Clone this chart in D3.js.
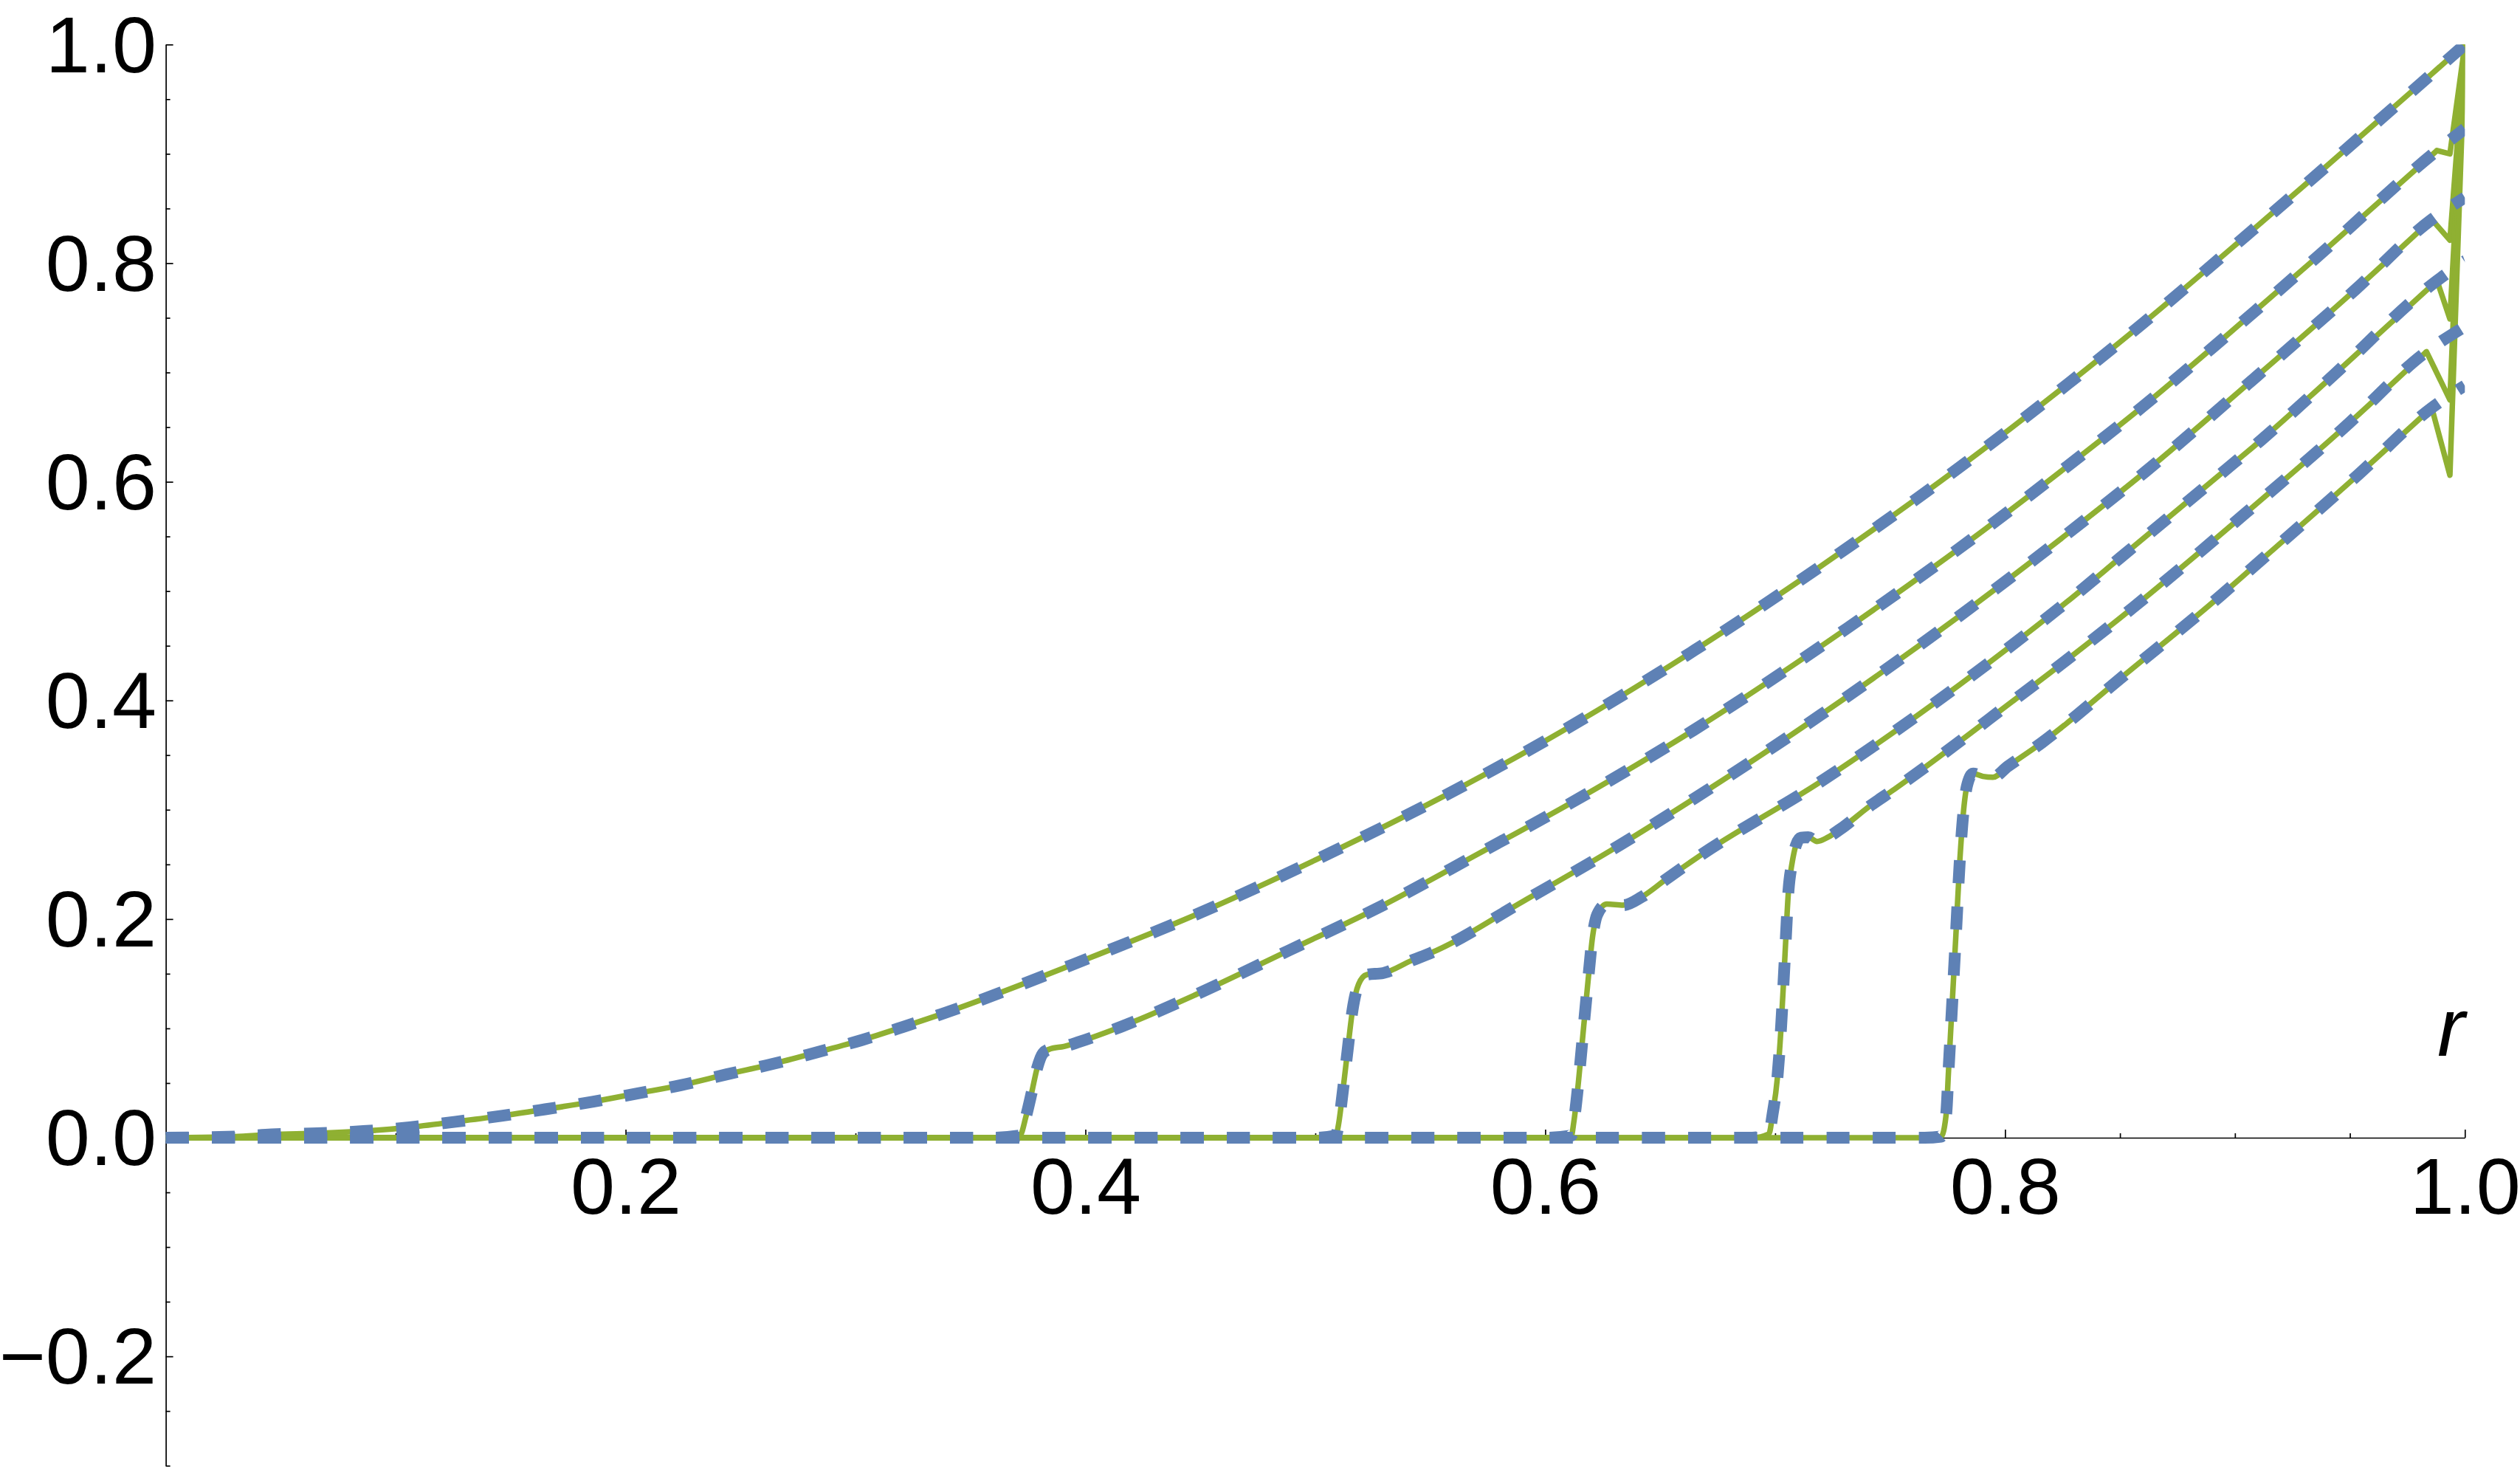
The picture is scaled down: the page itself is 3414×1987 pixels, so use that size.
<!DOCTYPE html>
<html>
<head>
<meta charset="utf-8">
<script src="https://cdn.jsdelivr.net/npm/d3@7"></script>
<style>
    body { margin: 0; background: #ffffff; }
    svg text { font-family: "Liberation Sans", Arial, sans-serif; }
</style>
</head>
<body>
<div id="chart"></div>
<script>
// Data
const xTickLabels = [0.2, 0.4, 0.6, 0.8, 1.0]
const yTickLabels = [-0.2, 0.0, 0.2, 0.4, 0.6, 0.8, 1.0]
const axisLabel = 'r'

// curve 1 (no step)
const r1 = [0, 0.03, 0.046, 0.066, 0.086, 0.106, 0.126, 0.146, 0.165, 0.186, 0.205, 0.224, 0.244, 0.264, 0.283, 0.303, 0.321, 0.340, 0.40, 0.448, 0.50, 0.55, 0.60, 0.665, 0.72, 0.78, 0.827, 0.86, 0.907, 0.94, 0.985]
const u1 = [0, 0.001, 0.003, 0.004, 0.006, 0.0095, 0.0146, 0.020, 0.026, 0.033, 0.0405, 0.048, 0.058, 0.0675, 0.078, 0.0895, 0.1016, 0.115, 0.163, 0.204, 0.254, 0.306, 0.363, 0.446, 0.523, 0.613, 0.689, 0.745, 0.829, 0.889, 0.972]

// curve 2 (step near r = 0.37)
const r2 = [0, 0.36, 0.3715, 0.3741, 0.3766, 0.379, 0.3815, 0.3846, 0.3907, 0.3968, 0.4091, 0.4214, 0.4476, 0.4885, 0.5295, 0.5704, 0.6114, 0.6646, 0.7313, 0.780, 0.828, 0.8594, 0.8943, 0.9354, 0.9879]
const u2 = [0, 0, 0.002, 0.019, 0.041, 0.0637, 0.0772, 0.0812, 0.0835, 0.0873, 0.0964, 0.1065, 0.1305, 0.1713, 0.2127, 0.2592, 0.3065, 0.3729, 0.466, 0.539, 0.6157, 0.668, 0.730, 0.805, 0.903]

// curve 3 (step near r = 0.51)
const r3 = [0, 0.50, 0.509, 0.510, 0.5121, 0.5141, 0.5162, 0.5188, 0.5223, 0.5295, 0.5418, 0.55, 0.591, 0.6319, 0.6646, 0.72, 0.780, 0.8268, 0.8609, 0.907, 0.9525, 0.9856]
const u3 = [0, 0, 0.002, 0.011, 0.0448, 0.081, 0.117, 0.1403, 0.1491, 0.1506, 0.162, 0.1688, 0.217, 0.267, 0.310, 0.387, 0.477, 0.552, 0.609, 0.692, 0.776, 0.840]

// curve 4 (step near r = 0.61)
const r4 = [0, 0.60, 0.6114, 0.6124, 0.6144, 0.6165, 0.6186, 0.6206, 0.6226, 0.6268, 0.6339, 0.6421, 0.6523, 0.6663, 0.72, 0.780, 0.8268, 0.8498, 0.8943, 0.9113, 0.94, 0.9879]
const u4 = [0, 0, 0.002, 0.0138, 0.050, 0.0966, 0.143, 0.184, 0.204, 0.2137, 0.2127, 0.2204, 0.236, 0.2566, 0.326, 0.414, 0.490, 0.530, 0.608, 0.638, 0.692, 0.784]

// curve 5 (step near r = 0.70)
const r5 = [0, 0.69, 0.6973, 0.6989, 0.701, 0.7026, 0.7042, 0.7058, 0.7074, 0.709, 0.7112, 0.7144, 0.7182, 0.723, 0.7283, 0.7412, 0.7519, 0.7574, 0.8031, 0.8268, 0.8557, 0.9022, 0.9472, 0.9833]
const u5 = [0, 0, 0.0035, 0.0216, 0.0552, 0.1017, 0.1638, 0.2258, 0.2516, 0.2672, 0.2744, 0.2749, 0.271, 0.2749, 0.2822, 0.3034, 0.3188, 0.327, 0.399, 0.437, 0.485, 0.567, 0.649, 0.719]

// curve 6 (step near r = 0.77)
const r6 = [0, 0.765, 0.7722, 0.7744, 0.7754, 0.777, 0.7786, 0.7802, 0.7818, 0.7834, 0.7861, 0.7904, 0.7947, 0.8011, 0.8161, 0.8268, 0.8476, 0.8943, 0.9086, 0.9536, 0.9856]
const u6 = [0, 0, 0.001, 0.0216, 0.0604, 0.1224, 0.1845, 0.249, 0.2956, 0.3215, 0.3331, 0.3305, 0.3297, 0.3395, 0.3615, 0.379, 0.4156, 0.4968, 0.5232, 0.6065, 0.6677]

// end of the solid curves: dip just before r = 1, then up to 1 at r = 1
const dipR = [null, 0.9935, 0.9935, 0.9935, 0.9935, 0.9935]
const dipU = [null, 0.900, 0.821, 0.749, 0.675, 0.606]
const solidEndU = [1.0, 1.0, 1.0, 1.0, 1.0, 1.0]
// end of the dashed curves at r = 1
const dashedEndU = [1.0, 0.923, 0.860, 0.802, 0.742, 0.688]

const curvesR = [r1, r2, r3, r4, r5, r6]
const curvesU = [u1, u2, u3, u4, u5, u6]

function draw() {
    //Dimensions
    let dimensions = {
        width: 3414,
        height: 1987,
        margin: {
            top: 60.3,
            bottom: 1.8,
            left: 224.6,
            right: 74.7
        }
    }
    dimensions.ctrWidth = dimensions.width - dimensions.margin.left - dimensions.margin.right
    dimensions.ctrHeight = dimensions.height - dimensions.margin.top - dimensions.margin.bottom

    const fontSize = 108
    const green = '#8fb032'
    const blue = '#5e81b5'

    const svg = d3.select('#chart')
        .append('svg')
        .attr('width', dimensions.width)
        .attr('height', dimensions.height)
    const ctr = svg.append('g')
        .attr('transform', `translate(${dimensions.margin.left},${dimensions.margin.top})`)

    //Scales
    const xScale = d3.scaleLinear()
        .domain([0, 1])
        .range([0, dimensions.ctrWidth])
    const yScale = d3.scaleLinear()
        .domain([-0.3, 1])
        .range([dimensions.ctrHeight, 0])

    // clip to the plot range
    svg.append('defs').append('clipPath')
        .attr('id', 'plot-clip')
        .append('rect')
        .attr('x', 0)
        .attr('y', 0)
        .attr('width', dimensions.ctrWidth)
        .attr('height', dimensions.ctrHeight)

    //Axes
    const fmt = d3.format('.1f')

    const xAxis = d3.axisBottom(xScale)
        .tickValues(xTickLabels)
        .tickSizeInner(-11)
        .tickSizeOuter(0)
        .tickPadding(26)
        .tickFormat(fmt)
    const xMinor = d3.axisBottom(xScale)
        .tickValues(d3.range(1, 20).filter(i => i % 4 !== 0).map(i => i * 0.05))
        .tickSizeInner(-6)
        .tickSizeOuter(0)
        .tickFormat('')

    const xAxisGroup = ctr.append('g')
        .attr('transform', `translate(0,${yScale(0)})`)
        .call(xAxis)
    ctr.append('g')
        .attr('transform', `translate(0,${yScale(0)})`)
        .call(xMinor)
        .call(g => g.select('.domain').remove())

    const yAxis = d3.axisLeft(yScale)
        .tickValues(yTickLabels)
        .tickSizeInner(-10)
        .tickSizeOuter(0)
        .tickPadding(12.6)
        .tickFormat(fmt)
    const yMinor = d3.axisLeft(yScale)
        .tickValues(d3.range(-6, 21).filter(i => i % 4 !== 0).map(i => i * 0.05))
        .tickSizeInner(-6)
        .tickSizeOuter(0)
        .tickFormat('')

    const yAxisGroup = ctr.append('g')
        .attr('transform', `translate(${xScale(0)},0)`)
        .call(yAxis)
    ctr.append('g')
        .attr('transform', `translate(${xScale(0)},0)`)
        .call(yMinor)
        .call(g => g.select('.domain').remove())

    ctr.selectAll('.domain, .tick line')
        .attr('stroke', '#000')
        .attr('stroke-width', 1.7)
    ctr.selectAll('.tick text')
        .attr('fill', '#000')
        .style('font-size', fontSize + 'px')
    yAxisGroup.selectAll('.tick text').attr('dy', '0.34em')
    xAxisGroup.selectAll('.tick text').attr('dy', '0.71em')

    // axis label
    ctr.append('text')
        .attr('x', xScale(1))
        .attr('y', yScale(0) - 111)
        .attr('text-anchor', 'end')
        .attr('fill', '#000')
        .style('font-size', '112px')
        .style('font-style', 'italic')
        .text(axisLabel)

    //Curves
    const smooth = d3.line()
        .x(d => xScale(d[0]))
        .y(d => yScale(d[1]))
        .curve(d3.curveMonotoneX)
    const straight = d3.line()
        .x(d => xScale(d[0]))
        .y(d => yScale(d[1]))

    const plot = ctr.append('g').attr('clip-path', 'url(#plot-clip)')

    const solidGroup = plot.append('g')
    const dashedGroup = plot.append('g')

    curvesR.forEach((rs, i) => {
        const pts = rs.map((r, j) => [r, curvesU[i][j]])
        const last = pts[pts.length - 1]

        // solid green
        solidGroup.append('path')
            .attr('d', smooth(pts))
            .attr('fill', 'none')
            .attr('stroke', green)
            .attr('stroke-width', 7.5)
            .attr('stroke-linejoin', 'round')
        const tail = dipR[i] === null
            ? [last, [1, solidEndU[i]]]
            : [last, [dipR[i], dipU[i]], [1, solidEndU[i]]]
        solidGroup.append('path')
            .attr('d', straight(tail))
            .attr('fill', 'none')
            .attr('stroke', green)
            .attr('stroke-width', 7.5)
            .attr('stroke-linejoin', 'round')
            .attr('stroke-linecap', 'round')

        // dashed blue
        dashedGroup.append('path')
            .attr('d', smooth(pts.concat([[1, dashedEndU[i]]])))
            .attr('fill', 'none')
            .attr('stroke', blue)
            .attr('stroke-width', 16)
            .attr('stroke-dasharray', '31,31.5')
            .attr('stroke-linecap', 'butt')
    })
}
draw()
</script>
</body>
</html>
